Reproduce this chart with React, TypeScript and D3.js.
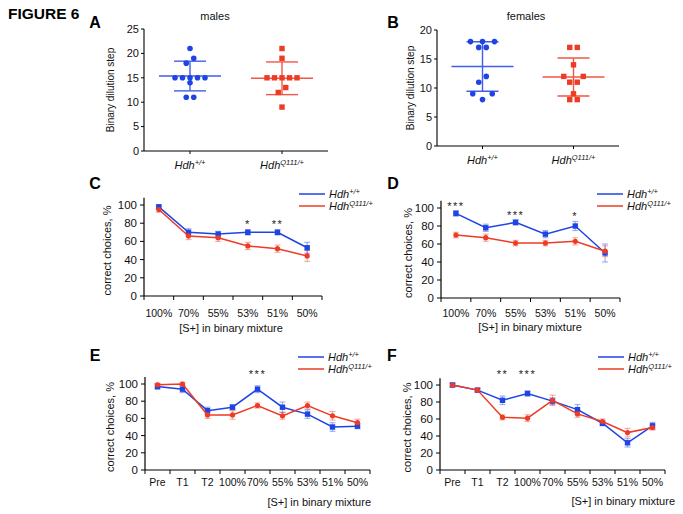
import React from 'react';
import * as d3 from 'd3';

const FONT = "'Liberation Sans', Arial, Helvetica, sans-serif";
const BLUE = '#1f44e4';
const RED = '#ee3b25';

// ---- Panels A & B (binary dilution step) ----
const genotypes = ['wt', 'q111'];
const malesWT = [21, 19, 18, 15, 15, 15, 15, 15, 14, 11, 11];
const malesQ111 = [21, 19, 15, 15, 15, 15, 15, 13, 12, 9];
const femalesWT = [18, 18, 18, 17, 17, 12, 11, 9, 9, 8];
const femalesQ111 = [17, 17, 14, 12, 12, 11, 11, 9, 8, 8];
const maleTicks = [0, 5, 10, 15, 20, 25];
const femaleTicks = [0, 5, 10, 15, 20];

// ---- Panels C-F (correct choices, %) ----
const concCats = ['100%', '70%', '55%', '53%', '51%', '50%'];
const trainCats = ['Pre', 'T1', 'T2', '100%', '70%', '55%', '53%', '51%', '50%'];
const pctTicks = [0, 20, 40, 60, 80, 100];

const cBlue = [98, 70, 68, 70, 70, 53];
const cBlueErr = [2, 4, 3, 3, 3, 6];
const cRed = [95, 66, 64, 55, 52, 44];
const cRedErr = [3, 4, 4, 4, 4, 6];
const cSig = ['', '', '', '*', '**', ''];

const dBlue = [94, 78, 84, 71, 80, 50];
const dBlueErr = [3, 4, 3, 4, 5, 10];
const dRed = [70, 67, 61, 61, 63, 52];
const dRedErr = [3, 4, 3, 3, 4, 6];
const dSig = ['***', '', '***', '', '*', ''];

const eBlue = [97, 94, 69, 73, 94, 73, 65, 50, 51];
const eBlueErr = [3, 4, 4, 3, 4, 6, 5, 5, 3];
const eRed = [99, 100, 64, 64, 75, 63, 75, 63, 55];
const eRedErr = [2, 2, 4, 5, 3, 4, 4, 5, 4];
const eSig = ['', '', '', '', '***', '', '', '', ''];

const fBlue = [100, 94, 82, 90, 81, 71, 55, 32, 52];
const fBlueErr = [2, 2, 5, 3, 4, 6, 3, 5, 4];
const fRed = [100, 94, 62, 61, 82, 66, 57, 44, 50];
const fRedErr = [2, 2, 3, 4, 6, 4, 3, 5, 3];
const fSig = ['', '', '**', '***', '', '', '', '', ''];

function GenoLabel({ x, y, size, sup, anchor = 'middle' }: any) {
  return (
    <text x={x} y={y} fontSize={size} fontStyle="italic" textAnchor={anchor} fontFamily={FONT} fill="#111">
      Hdh
      <tspan dy={-size * 0.38} fontSize={size * 0.68}>{sup}</tspan>
    </text>
  );
}

function swarmOffsets(values: number[], y: (v: number) => number, thresh: number) {
  const counts = d3.rollup(values, (v) => v.length, (d) => d);
  const seen = new Map<number, number>();
  const offs = values.map((v) => {
    const n = counts.get(v)!;
    const i = seen.get(v) || 0;
    seen.set(v, i + 1);
    return i - (n - 1) / 2;
  });
  const distinct = Array.from(counts.keys()).sort((a, b) => b - a);
  const used = new Set<number>();
  for (let k = 1; k < distinct.length; k++) {
    const u = distinct[k - 1];
    const v = distinct[k];
    const close = Math.abs(y(u) - y(v)) < thresh;
    const nu = counts.get(u)!;
    if (nu === 1 && counts.get(v) === 1 && !used.has(u) && close) {
      offs[values.indexOf(u)] = 0.5;
      offs[values.indexOf(v)] = -0.5;
      used.add(u);
      used.add(v);
    } else if (close && (nu === 2 || nu === 3)) {
      const f = nu === 2 ? 2.6 : 1.6;
      values.forEach((val, i) => {
        if (val === u) offs[i] *= f;
      });
    }
  }
  return offs;
}

function ScatterPanel({ letter, title, wt, q111, ticks, x0, x1, yBottom, yTop, letterX, titleX, ylabelX }: any) {
  const max = ticks[ticks.length - 1];
  const x = d3.scalePoint().domain(genotypes).range([x0, x1]).padding(0.5);
  const y = d3.scaleLinear().domain([0, max]).range([yBottom, yTop]);
  const sets = [
    { key: 'wt', vals: wt, color: BLUE, shape: 'circle', sup: '+/+' },
    { key: 'q111', vals: q111, color: RED, shape: 'square', sup: 'Q111/+' },
  ];
  const step = 7.5;
  return (
    <g fontFamily={FONT}>
      <text x={letterX} y={28} fontSize={16} fontWeight="bold" textAnchor="middle">{letter}</text>
      <text x={titleX} y={20} fontSize={11} textAnchor="middle" fill="#111">{title}</text>
      <line x1={x0} x2={x0} y1={yTop} y2={yBottom} stroke="#000" strokeWidth={1.1} />
      <line x1={x0} x2={x1} y1={yBottom} y2={yBottom} stroke="#000" strokeWidth={1.1} />
      {ticks.map((t: number) => (
        <g key={t}>
          <line x1={x0 - 3} x2={x0} y1={y(t)} y2={y(t)} stroke="#000" />
          <text x={x0 - 5} y={y(t)} dy="0.35em" fontSize={11} textAnchor="end" fill="#111">{t}</text>
        </g>
      ))}
      <text transform={`translate(${ylabelX},${(yTop + yBottom) / 2}) rotate(-90)`} fontSize={10} textAnchor="middle" fill="#111">
        Binary dilution step
      </text>
      {sets.map((s) => {
        const cx = x(s.key)!;
        const m = d3.mean(s.vals as number[])!;
        const sd = d3.deviation(s.vals as number[])!;
        const offs = swarmOffsets(s.vals, y, 6.5);
        return (
          <g key={s.key}>
            <line x1={cx} x2={cx} y1={yBottom} y2={yBottom + 3} stroke="#000" />
            <GenoLabel x={cx} y={yBottom + 18} size={11} sup={s.sup} />
            <g stroke={s.color} strokeWidth={1.4} opacity={0.85}>
              <line x1={cx - 31} x2={cx + 31} y1={y(m)} y2={y(m)} />
              <line x1={cx - 16} x2={cx + 16} y1={y(m + sd)} y2={y(m + sd)} />
              <line x1={cx - 16} x2={cx + 16} y1={y(m - sd)} y2={y(m - sd)} />
              <line x1={cx} x2={cx} y1={y(m + sd)} y2={y(m - sd)} />
            </g>
            {s.vals.map((v: number, i: number) =>
              s.shape === 'circle' ? (
                <circle key={i} cx={cx + offs[i] * step} cy={y(v)} r={2.8} fill={s.color} />
              ) : (
                <rect key={i} x={cx + offs[i] * step - 2.7} y={y(v) - 2.7} width={5.4} height={5.4} fill={s.color} />
              )
            )}
          </g>
        );
      })}
    </g>
  );
}

function LinePanel(p: any) {
  const { letter, letterX, letterY, cats, blue, blueErr, red, redErr, sig, sigLevel, x0, x1, yBottom, yTop100,
    ylabelX, xlabelX, xlabelY, xlabelAnchor, tickY, legX, legY } = p;
  const x = d3.scaleBand().domain(cats).range([x0, x1]);
  const y = d3.scaleLinear().domain([0, 100]).range([yBottom, yTop100]);
  const cx = (c: string) => x(c)! + x.bandwidth() / 2;
  const line = d3.line<number>().x((_, i) => cx(cats[i])).y((d) => y(d));
  const series = [
    { key: 'b', vals: blue, err: blueErr, color: BLUE, shape: 'square' },
    { key: 'r', vals: red, err: redErr, color: RED, shape: 'circle' },
  ];
  const bounds = [...cats.map((c: string) => x(c)!), x1];
  return (
    <g fontFamily={FONT}>
      <text x={letterX} y={letterY} fontSize={16} fontWeight="bold" textAnchor="middle">{letter}</text>
      <line x1={x0} x2={x0} y1={y(108)} y2={yBottom} stroke="#000" strokeWidth={1.2} />
      <line x1={x0} x2={x1} y1={yBottom} y2={yBottom} stroke="#000" strokeWidth={1.2} />
      {pctTicks.map((t) => (
        <g key={t}>
          <line x1={x0 - 4} x2={x0} y1={y(t)} y2={y(t)} stroke="#000" />
          <text x={x0 - 7} y={y(t)} dy="0.35em" fontSize={11.5} textAnchor="end" fill="#111">{t}</text>
        </g>
      ))}
      {bounds.map((b: number, i: number) => (
        <line key={i} x1={b} x2={b} y1={yBottom} y2={yBottom + 4} stroke="#000" />
      ))}
      {cats.map((c: string) => (
        <text key={c} x={cx(c)} y={tickY} fontSize={10.5} textAnchor="middle" fill="#111">{c}</text>
      ))}
      <text x={xlabelX} y={xlabelY} fontSize={11} textAnchor={xlabelAnchor} fill="#111">[S+] in binary mixture</text>
      <text transform={`translate(${ylabelX},${(yBottom + y(100)) / 2}) rotate(-90)`} fontSize={11} textAnchor="middle" fill="#111">
        correct choices, %
      </text>
      {series.map((s) => (
        <g key={s.key + 'e'} stroke={s.color} strokeOpacity={0.4} strokeWidth={1.2}>
          {s.vals.map((v: number, i: number) => {
            const px = cx(cats[i]);
            return (
              <g key={i}>
                <line x1={px} x2={px} y1={y(v + s.err[i])} y2={y(v - s.err[i])} />
                <line x1={px - 3} x2={px + 3} y1={y(v + s.err[i])} y2={y(v + s.err[i])} />
                <line x1={px - 3} x2={px + 3} y1={y(v - s.err[i])} y2={y(v - s.err[i])} />
              </g>
            );
          })}
        </g>
      ))}
      {series.map((s) => (
        <g key={s.key}>
          <path d={line(s.vals)!} fill="none" stroke={s.color} strokeWidth={1.5} />
          {s.vals.map((v: number, i: number) =>
            s.shape === 'square' ? (
              <rect key={i} x={cx(cats[i]) - 2.7} y={y(v) - 2.7} width={5.4} height={5.4} fill={s.color} />
            ) : (
              <circle key={i} cx={cx(cats[i])} cy={y(v)} r={2.6} fill={s.color} />
            )
          )}
        </g>
      ))}
      {sig.map((s: string, i: number) => {
        if (!s) return null;
        const top = Math.max(blue[i] + blueErr[i], red[i] + redErr[i]);
        const lvl = sigLevel != null ? sigLevel : top + 8;
        return (
          <text key={i} x={cx(cats[i])} y={y(lvl) + 6} fontSize={11} letterSpacing={1.5} textAnchor="middle" fill="#222">{s}</text>
        );
      })}
      <g>
        <line x1={legX} x2={legX + 26} y1={legY} y2={legY} stroke={BLUE} strokeWidth={1.5} />
        <line x1={legX} x2={legX + 26} y1={legY + 12} y2={legY + 12} stroke={RED} strokeWidth={1.5} />
        <GenoLabel x={legX + 30} y={legY + 4} size={11} sup="+/+" anchor="start" />
        <GenoLabel x={legX + 30} y={legY + 16} size={11} sup="Q111/+" anchor="start" />
      </g>
    </g>
  );
}

export default function App() {
  return (
    <div style={{ position: 'absolute', left: 0, top: 0, width: 683, height: 514, background: '#fff' }}>
      <svg width={683} height={514} viewBox="0 0 683 514">
        <rect width={683} height={514} fill="#fff" />
        <text x={8} y={19} fontSize={15.5} fontWeight="bold" fontFamily={FONT}>FIGURE 6</text>
        <ScatterPanel letter="A" title="males" wt={malesWT} q111={malesQ111} ticks={maleTicks}
          x0={144} x1={328} yBottom={151} yTop={29} letterX={95} titleX={215} ylabelX={114} />
        <ScatterPanel letter="B" title="females" wt={femalesWT} q111={femalesQ111} ticks={femaleTicks}
          x0={437} x1={619} yBottom={146} yTop={30} letterX={393} titleX={526} ylabelX={414} />
        <LinePanel letter="C" letterX={95} letterY={189} cats={concCats} blue={cBlue} blueErr={cBlueErr} red={cRed} redErr={cRedErr}
          sig={cSig} sigLevel={null} x0={144} x1={322} yBottom={296} yTop100={205}
          ylabelX={111} xlabelX={231} xlabelY={332} xlabelAnchor="middle" tickY={317} legX={299} legY={194} />
        <LinePanel letter="D" letterX={393} letterY={189} cats={concCats} blue={dBlue} blueErr={dBlueErr} red={dRed} redErr={dRedErr}
          sig={dSig} sigLevel={null} x0={441} x1={620} yBottom={298} yTop100={208}
          ylabelX={412} xlabelX={530} xlabelY={331} xlabelAnchor="middle" tickY={317} legX={597} legY={194} />
        <LinePanel letter="E" letterX={95} letterY={361} cats={trainCats} blue={eBlue} blueErr={eBlueErr} red={eRed} redErr={eRedErr}
          sig={eSig} sigLevel={114} x0={145} x1={370} yBottom={470} yTop100={384}
          ylabelX={114} xlabelX={371} xlabelY={506} xlabelAnchor="end" tickY={486} legX={298} legY={357} />
        <LinePanel letter="F" letterX={392} letterY={361} cats={trainCats} blue={fBlue} blueErr={fBlueErr} red={fRed} redErr={fRedErr}
          sig={fSig} sigLevel={115} x0={440} x1={665} yBottom={470} yTop100={385}
          ylabelX={411} xlabelX={675} xlabelY={505} xlabelAnchor="end" tickY={486} legX={598} legY={357} />
      </svg>
    </div>
  );
}
